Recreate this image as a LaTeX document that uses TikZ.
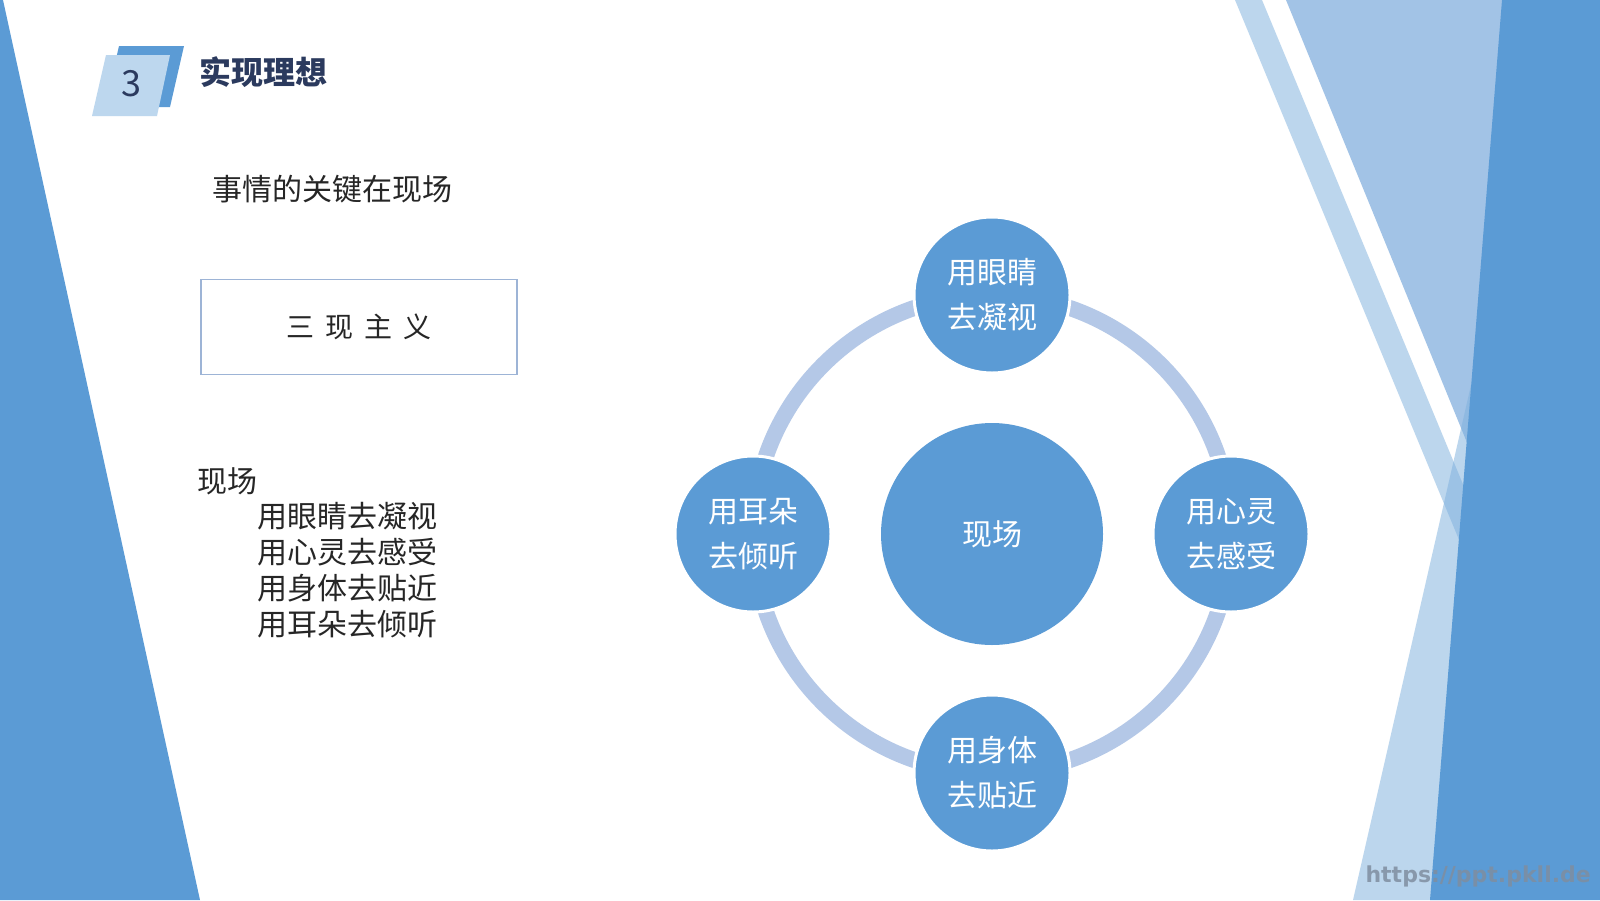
\documentclass[tikz,border=0pt]{standalone}
\usepackage{fontspec}
\setmainfont{Noto Sans CJK SC}
\newfontfamily\markfont{DejaVu Sans}
\usetikzlibrary{positioning}

\definecolor{deckblue}{HTML}{5B9BD5}
\definecolor{paleblue}{HTML}{7FB1DE}
\definecolor{midblue}{HTML}{A2C3E6}
\definecolor{ringblue}{HTML}{B4C8E7}
\definecolor{tagblue}{HTML}{BDD7EE}
\definecolor{titlenavy}{HTML}{2B3A5E}
\definecolor{framegray}{HTML}{9DB4D6}
\definecolor{markgray}{HTML}{7F8EA0}

\tikzset{
  petal/.style={circle, fill=deckblue, draw=white, line width=3pt, minimum size=156pt,
    inner sep=0pt, text=white, align=center, font=\fontsize{30}{45}\selectfont},
  hubdisc/.style={circle, fill=deckblue, minimum size=222pt, inner sep=0pt,
    text=white, font=\fontsize{30}{36}\selectfont},
  bodytext/.style={inner sep=0pt, text=black!85, font=\fontsize{30}{36}\selectfont},
}

\begin{document}
\begin{tikzpicture}[x=1pt, y=-1pt]
\useasboundingbox (0,0) rectangle (1600,900);
\fill[white] (0,0) rectangle (1600,900);

% side panels
\fill[deckblue] (0,0) -- (3,0) -- (200,900) -- (0,900) -- cycle;
\fill[midblue] (1286,0) -- (1560,0) -- (1560,670) -- cycle;
\fill[paleblue, fill opacity=0.52] (1235,0) -- (1262,0) -- (1511,600) -- (1484,600) -- cycle;
\fill[paleblue, fill opacity=0.52] (1353,900) -- (1471,385) -- (1500,385) -- (1500,900) -- cycle;
\fill[deckblue] (1502,0) -- (1600,0) -- (1600,900) -- (1430,900) -- cycle;

% header tag
\fill[deckblue] (119,46) -- (184,46) -- (170,107) -- (105,107) -- cycle;
\fill[tagblue] (106,55) -- (170,55) -- (157,116) -- (92,116) -- cycle;
\node[text=titlenavy, font=\fontsize{36}{36}\selectfont] (num) at (131,84) {3};
\node[anchor=west, inner sep=0pt, text=titlenavy, font=\fontsize{32}{32}\selectfont\bfseries] (title) at (199,72) {实现理想};

% left column
\node[bodytext, anchor=west] (lead) at (212,189) {事情的关键在现场};
\node[draw=framegray, line width=1.5pt, minimum width=316pt, minimum height=95pt,
  text=black!85, font=\fontsize{28}{28}\selectfont] (motto) at (359,327) {\spaceskip=11pt\relax 三 现 主 义};
\node[bodytext, anchor=west] (scene) at (197,481) {现场};
\node[bodytext, anchor=north west, align=left] (ways) at (257,502)
  {用眼睛去凝视\\用心灵去感受\\用身体去贴近\\用耳朵去倾听};

% ring diagram
\coordinate (core) at (992,534);
\draw[ringblue, line width=16pt] (core) circle (239);
\node[hubdisc] (site) at (core) {现场};
\node[petal] (eye) at ([yshift=239pt]site.center) {用眼睛\\去凝视};
\node[petal] (heart) at ([xshift=239pt]site.center) {用心灵\\去感受};
\node[petal] (body) at ([yshift=-239pt]site.center) {用身体\\去贴近};
\node[petal] (ear) at ([xshift=-239pt]site.center) {用耳朵\\去倾听};

% watermark
\node[anchor=east, inner sep=0pt, text=markgray, text opacity=0.85,
  font=\markfont\bfseries\fontsize{22}{22}\selectfont] (mark) at (1591,876) {https://ppt.pkll.de};
\end{tikzpicture}
\end{document}
